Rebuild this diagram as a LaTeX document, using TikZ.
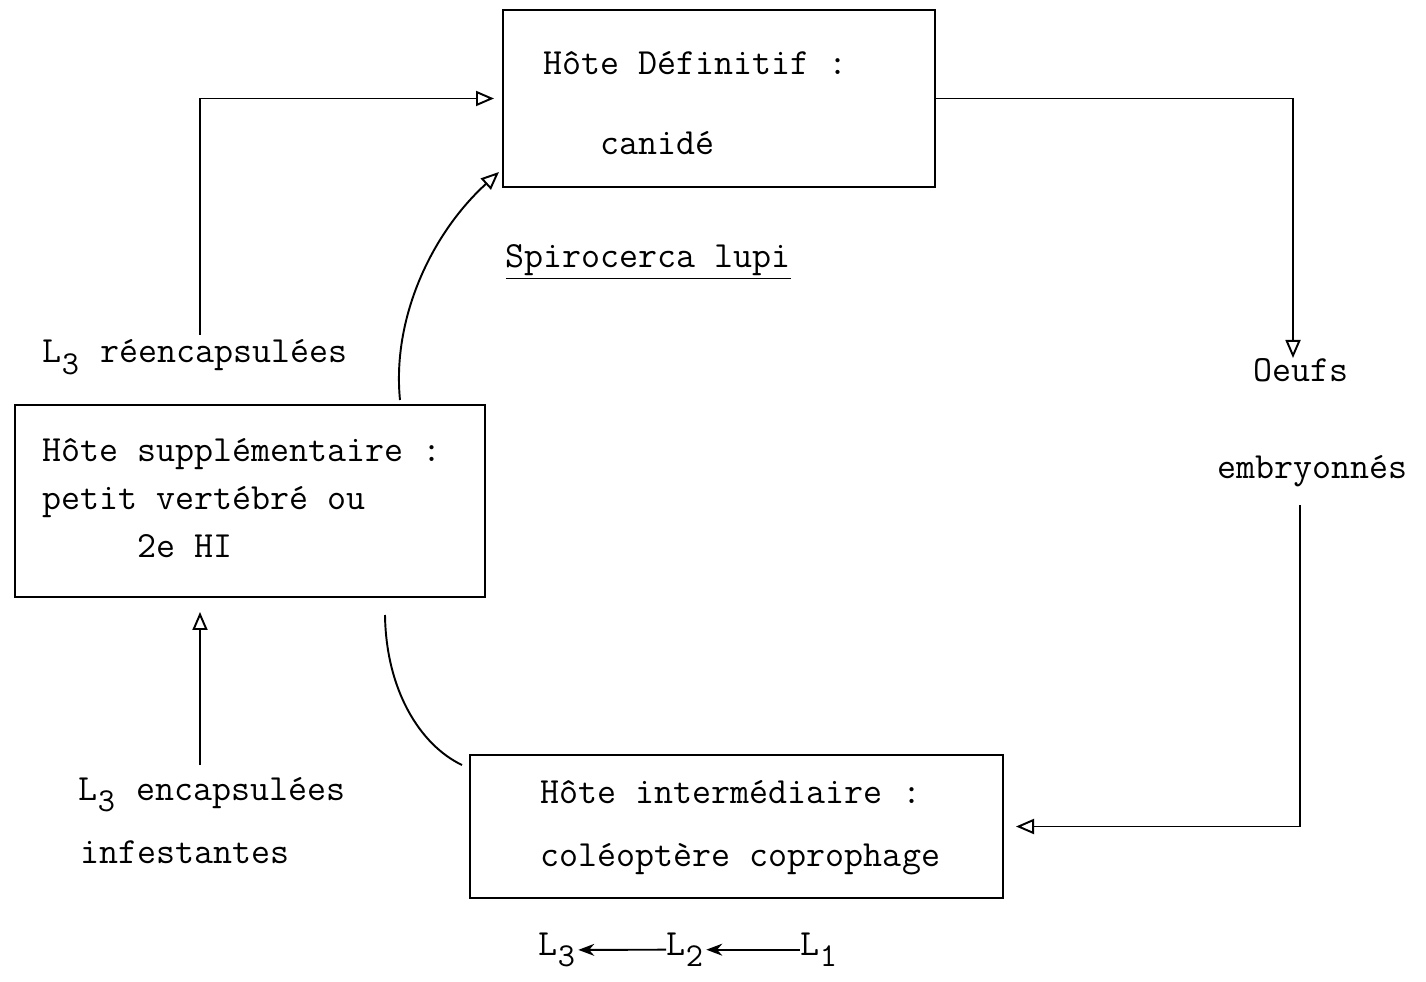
\documentclass[tikz,border=0pt]{standalone}
\usetikzlibrary{
	arrows.meta,
	calc,
	positioning
}
\tikzset{every path/.append style={line width=1.1pt}}
\tikzset{
	hostbox/.style={draw,line width=1.2pt,inner sep=0pt},
	txt/.style={anchor=base west,inner sep=0pt,font=\ttfamily\fontsize{21}{24}\selectfont},
	arr/.style={-{Triangle[open,length=3.6mm,width=3mm]}},
	larr/.style={-{Stealth[length=3.2mm,width=2.4mm]}}
}
\newcommand{\lsub}[1]{\makebox[0.525em][l]{\raisebox{-0.75ex}{\fontsize{19}{19}\selectfont #1}}}

\begin{document}
\begin{tikzpicture}[x=0.02cm,y=-0.02cm]
	\useasboundingbox (0,0) rectangle (1426,982);

	% boxes
	\node (hd) at (719,98.5) [hostbox,minimum width=8.64cm,minimum height=3.54cm] {};
	\node (hs) at (250,501) [hostbox,minimum width=9.4cm,minimum height=3.84cm] {};
	\node (hi) at (736.5,826.5) [hostbox,minimum width=10.66cm,minimum height=2.86cm] {};

	\node (hd1) at (543,75) [txt] {Hôte Définitif :};
	\node (hd2) at (600,155) [txt] {canidé};
	\node (hs1) at (42,462) [txt] {Hôte supplémentaire :};
	\node (hs2) at (42,510) [txt] {petit vertébré ou};
	\node (hs3) at (137,558) [txt] {2e HI};
	\node (hi1) at (540,803) [txt] {Hôte intermédiaire :};
	\node (hi2) at (540,866) [txt] {coléoptère coprophage};

	% labels
	\node (sl) at (505,268) [txt] {\underline{Spirocerca lupi}};
	\node (lr) at (42,363) [txt] {L\lsub{3} réencapsulées};
	\node (oe) at (1253,382) [txt] {Oeufs};
	\node (em) at (1217,479) [txt] {embryonnés};
	\node (le) at (78,800) [txt] {L\lsub{3} encapsulées};
	\node (inf) at (80,863) [txt] {infestantes};

	\node (l3) at (538,955) [txt] {L\lsub{3}};
	\node (l2) at (666,955) [txt] {L\lsub{2}};
	\node (l1) at (800,955) [txt] {L\lsub{1}};

	\coordinate (a1) at (200,335);
	\coordinate (a2) at (400,400);
	\coordinate (a3) at (499,172);
	\coordinate (a4) at (385,615);
	\coordinate (a5) at (462,765);
	\coordinate (a6) at (200,765);
	\coordinate (a7) at (200,612);
	\coordinate (a8) at (1300,505);
	\coordinate (a9) at (1293,358);

	% cycle
	\draw[arr] (a1) |- ([xshift=-0.16cm]hd.west);
	\draw[arr] (a2) .. controls (392,320) and (430,235) .. (a3);
	\draw[arr] (hd.east) -| (a9);
	\draw[arr] (a8) |- ([xshift=0.24cm]hi.east);
	\draw (a4) .. controls (386,690) and (420,745) .. (a5);
	\draw[arr] (a6) -- (a7);

	\draw[larr] (l2.west) -- (l3.east);
	\draw[larr] (l1.west) -- (l2.east);
\end{tikzpicture}
\end{document}
